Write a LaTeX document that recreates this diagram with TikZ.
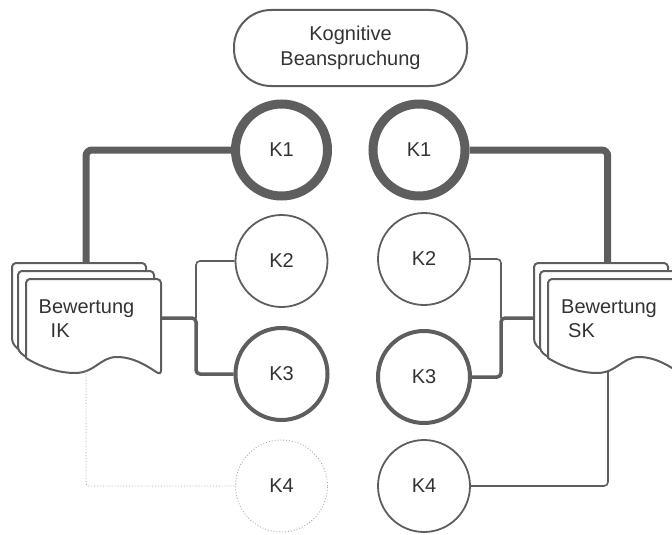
\documentclass[tikz,border=0pt]{standalone}
\usepackage{fontspec}
\setmainfont{Liberation Sans}
\definecolor{lg}{HTML}{5E5E5E}
\definecolor{tx}{HTML}{333333}
\definecolor{dg}{HTML}{A8A8A8}
\begin{document}
\begin{tikzpicture}[x=1pt,y=-1pt,
  kfont/.style={font=\fontsize{20}{25}\selectfont, text=tx},
  kcirc/.style={circle, draw=lg, fill=white, minimum size=92pt, inner sep=0pt, kfont},
  docline/.style={draw=lg, line width=2pt, line join=round, rounded corners=4pt},
  heavylink/.style={draw=lg, line width=7pt, rounded corners=6pt},
  midlink/.style={draw=lg, line width=3.5pt, rounded corners=4pt},
  thinlink/.style={draw=lg, line width=1.6pt, rounded corners=4pt},
  dotlink/.style={draw=dg, line width=0.9pt, dotted, rounded corners=3pt},
  doctext/.style={kfont, inner sep=0pt, anchor=base west}
]
\useasboundingbox (0,0) rectangle (672,535);
\clip (0,0) rectangle (672,535);

% title pill
\node[draw=lg, line width=2pt, rounded corners=37pt, minimum width=233pt, minimum height=76pt,
      align=center, kfont, inner sep=0pt] (kb) at (350.5,48) {Kognitive\\Beanspruchung};

% document stacks
\foreach \dx/\nm in {0/ik,522/sk}{
  \begin{scope}[shift={(\dx,0)}]
    \draw[docline, fill=white] (18,349) -- (12,343) -- (12,263) -- (146,263) -- (146,272);
    \draw[docline, fill=white] (26,357) -- (18,351) -- (18,271) -- (154,271) -- (154,280);
    \draw[docline, fill=white] (26,358) -- (26,279) -- (161,279) -- (161,375)
       [rounded corners=0pt] .. controls (150,368) and (135,357) .. (117,357)
       .. controls (100,357) and (95,373) .. (75,373)
       .. controls (60,373) and (42,368) .. (26,358) -- cycle;
  \end{scope}
}
\node[doctext] (ikA) at (38.5,313) {Bewertung};
\node[doctext] (ikB) at (50.5,337) {IK};
\node[doctext] (skA) at (561,313) {Bewertung};
\node[doctext] (skB) at (568,337) {SK};

% circles
\node[kcirc, line width=9pt] (k1l) at (281.5,150) {K1};
\node[kcirc, line width=1.8pt] (k2l) at (281.5,261) {K2};
\node[kcirc, line width=4pt] (k3l) at (281.5,374) {K3};
\node[kcirc, draw=dg, dotted, line width=0.9pt] (k4l) at (281.5,486) {K4};
\node[kcirc, line width=9pt] (k1r) at (419,150) {K1};
\node[kcirc, line width=1.8pt] (k2r) at (424,259) {K2};
\node[kcirc, line width=4pt] (k3r) at (424,377) {K3};
\node[kcirc, line width=1.8pt] (k4r) at (424,486) {K4};

% anchor coordinates on the documents
\coordinate (ikTop) at (86,263);
\coordinate (skTop) at (607.7,263);
\coordinate (ikRight) at (161,318);
\coordinate (skLeft) at (533,318);
\coordinate (jl) at (196,318);
\coordinate (jr) at (501,318);
\coordinate (ikBot) at (86,371);
\coordinate (skBot) at (608,371);

% connectors
\draw[heavylink] (k1l.west) -| (ikTop);
\draw[heavylink] (k1r.east) -| (skTop);
\draw[thinlink] (jl) |- (k2l.west);
\draw[midlink] (ikRight) -- (jl) |- (k3l.west);
\draw[dotlink] (ikBot) |- (k4l.west);
\draw[thinlink] (k2r.east) -| (jr);
\draw[midlink] (k3r.east) -| (jr) -- (skLeft);
\draw[thinlink] (k4r.east) -| (skBot);
\end{tikzpicture}
\end{document}
